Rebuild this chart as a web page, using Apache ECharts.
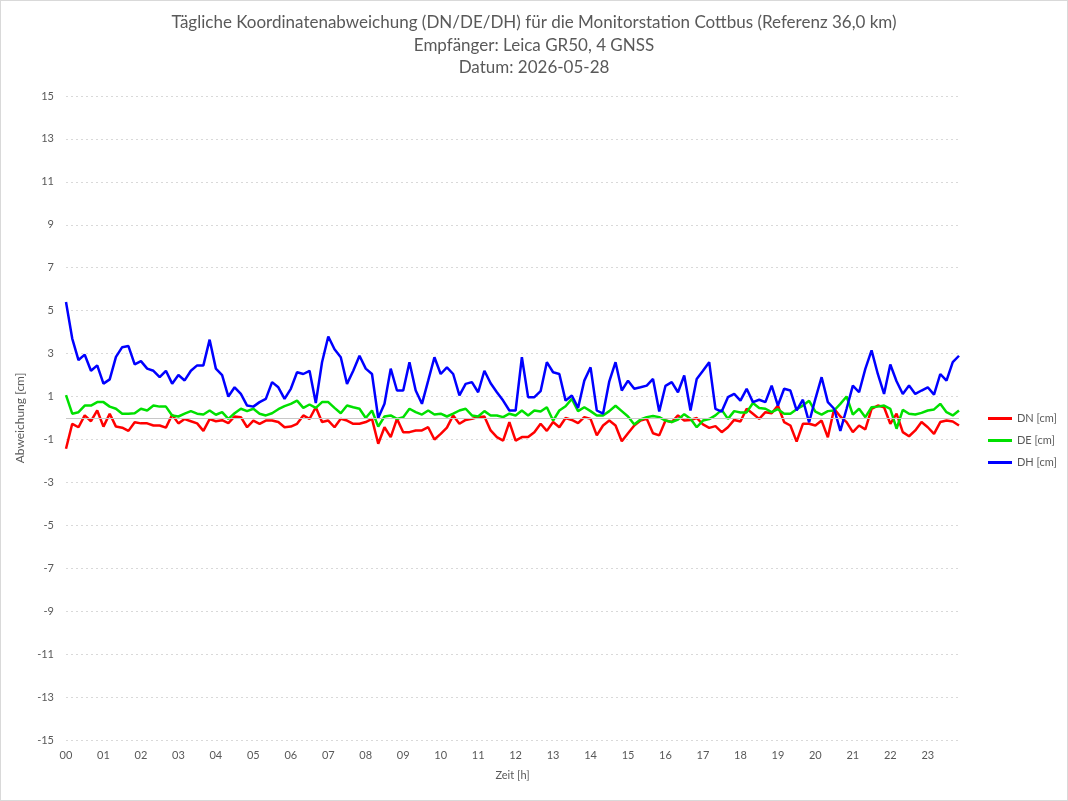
<!DOCTYPE html>
<html>
<head>
<meta charset="utf-8">
<script src="https://cdn.jsdelivr.net/npm/echarts@6/dist/echarts.min.js"></script>
<style>
  html, body { margin: 0; padding: 0; background: #fff; }
  #chart { width: 1066px; height: 799px; border: 1px solid #d9d9d9; }
</style>
</head>
<body>
<div id="chart"></div>
<script>
// Stundenbeschriftung der x-Achse
const hourLabels = ['00', '01', '02', '03', '04', '05', '06', '07', '08', '09', '10', '11',
  '12', '13', '14', '15', '16', '17', '18', '19', '20', '21', '22', '23']
const minuteSlots = ['00', '10', '20', '30', '40', '50'] // 10-Minuten-Epochen

const titleLines = [
  'Tägliche Koordinatenabweichung (DN/DE/DH) für die Monitorstation Cottbus (Referenz 36,0 km)',
  'Empfänger: Leica GR50, 4 GNSS',
  'Datum: 2026-05-28'
]

// DN [cm]
const dnValues = [
  -1.43, -0.27, -0.43, 0.12, -0.15, 0.35, -0.4, 0.2, -0.4, -0.45, -0.6, -0.2,
  -0.25, -0.25, -0.35, -0.35, -0.45, 0.15, -0.25, -0.05, -0.15, -0.25, -0.6, -0.05,
  -0.15, -0.1, -0.24, 0.07, 0.04, -0.43, -0.12, -0.27, -0.12, -0.12, -0.19, -0.43,
  -0.4, -0.27, 0.12, -0.04, 0.5, -0.19, -0.12, -0.43, -0.04, -0.12, -0.27, -0.27,
  -0.19, -0.04, -1.2, -0.43, -0.89, -0.04, -0.66, -0.66, -0.58, -0.58, -0.43, -1.0,
  -0.74, -0.45, 0.12, -0.27, -0.09, -0.04, 0.04, 0.07, -0.58, -0.89, -1.05, -0.19,
  -1.05, -0.89, -0.89, -0.66, -0.27, -0.6, -0.19, -0.43, 0.0, -0.09, -0.24, 0.04,
  -0.04, -0.81, -0.35, -0.12, -0.35, -1.08, -0.71, -0.35, -0.12, -0.04, -0.71, -0.81,
  -0.12, -0.19, 0.12, -0.12, -0.09, 0.0, -0.3, -0.46, -0.38, -0.66, -0.43, -0.09,
  -0.16, 0.43, 0.2, -0.04, 0.27, 0.22, 0.58, -0.19, -0.35, -1.1, -0.27, -0.27,
  -0.35, -0.12, -0.9, 0.43, 0.07, -0.19, -0.66, -0.35, -0.53, 0.43, 0.58, 0.5,
  -0.27, 0.2, -0.66, -0.85, -0.58, -0.19, -0.43, -0.74, -0.19, -0.12, -0.16, -0.35
]

// DE [cm]
const deValues = [
  1.07, 0.2, 0.27, 0.58, 0.58, 0.74, 0.74, 0.53, 0.43, 0.2, 0.2, 0.22,
  0.43, 0.35, 0.58, 0.53, 0.53, 0.12, 0.07, 0.2, 0.32, 0.2, 0.16, 0.35,
  0.15, 0.27, -0.04, 0.22, 0.43, 0.32, 0.43, 0.2, 0.12, 0.22, 0.41, 0.55,
  0.66, 0.81, 0.47, 0.63, 0.47, 0.74, 0.74, 0.47, 0.22, 0.58, 0.5, 0.43,
  0.0, 0.35, -0.4, 0.07, 0.12, -0.04, 0.04, 0.43, 0.27, 0.16, 0.35, 0.16,
  0.2, 0.07, 0.2, 0.35, 0.43, 0.12, 0.07, 0.32, 0.12, 0.12, 0.04, 0.2,
  0.12, 0.35, 0.12, 0.35, 0.3, 0.5, -0.12, 0.35, 0.55, 0.89, 0.32, 0.5,
  0.32, 0.12, 0.12, 0.32, 0.57, 0.32, 0.07, -0.3, -0.07, 0.04, 0.09, 0.04,
  -0.12, -0.19, -0.07, 0.18, -0.04, -0.43, -0.12, -0.05, 0.12, 0.38, -0.04, 0.32,
  0.26, 0.26, 0.7, 0.47, 0.43, 0.27, 0.41, 0.2, 0.2, 0.41, 0.58, 0.8,
  0.3, 0.16, 0.32, 0.35, 0.66, 1.0, 0.16, 0.43, 0.04, 0.5, 0.53, 0.58,
  0.43, -0.5, 0.38, 0.2, 0.16, 0.24, 0.35, 0.4, 0.66, 0.27, 0.12, 0.35
]

// DH [cm]
const dhValues = [
  5.4, 3.7, 2.7, 2.95, 2.2, 2.45, 1.6, 1.8, 2.85, 3.3, 3.35, 2.5,
  2.65, 2.3, 2.2, 1.9, 2.2, 1.6, 2.0, 1.75, 2.2, 2.45, 2.45, 3.65,
  2.3, 2.0, 1.0, 1.43, 1.12, 0.58, 0.53, 0.74, 0.89, 1.67, 1.43, 0.89,
  1.36, 2.13, 2.05, 2.2, 0.7, 2.6, 3.8, 3.2, 2.83, 1.59, 2.2, 2.9,
  2.3, 2.05, 0.0, 0.66, 2.3, 1.28, 1.28, 2.6, 1.28, 0.66, 1.74, 2.83,
  2.05, 2.36, 2.05, 1.05, 1.59, 1.67, 1.2, 2.2, 1.62, 1.2, 0.81, 0.35,
  0.35, 2.83, 0.97, 0.97, 1.25, 2.6, 2.13, 2.05, 0.81, 1.05, 0.47, 1.74,
  2.36, 0.35, 0.2, 1.71, 2.6, 1.28, 1.74, 1.36, 1.43, 1.51, 1.82, 0.3,
  1.5, 1.67, 1.2, 1.98, 0.35, 1.82, 2.2, 2.6, 0.43, 0.3, 0.97, 1.12,
  0.81, 1.36, 0.74, 0.85, 0.74, 1.51, 0.58, 1.36, 1.28, 0.35, 0.85, -0.2,
  0.89, 1.9, 0.74, 0.43, -0.6, 0.43, 1.51, 1.2, 2.29, 3.15, 2.05, 1.12,
  2.49, 1.71, 1.12, 1.51, 1.12, 1.28, 1.43, 1.09, 2.05, 1.74, 2.6, 2.9
]

const seriesNames = ['DN [cm]', 'DE [cm]', 'DH [cm]']
const seriesColors = ['#ff0000', '#00e000', '#0000ff']

// Zeitachse aus Stunden x Minuten zusammenbauen
const timeCategories = []
hourLabels.forEach(h => {
  minuteSlots.forEach(m => timeCategories.push(h + ':' + m))
})

const textColor = '#595959'
const fontFamily = 'Lato, "Open Sans", sans-serif'

const myChart = echarts.init(document.getElementById('chart'))

const option = {
  animation: false,
  textStyle: { fontFamily: fontFamily },
  // jede Titelzeile einzeln, damit alle zentriert sind
  title: titleLines.map((line, idx) => ({
    text: line,
    left: 'center',
    top: 12 + idx * 22.5,
    padding: 0,
    textStyle: {
      fontSize: 17,
      fontWeight: 'normal',
      color: textColor,
      lineHeight: 20,
      fontFamily: fontFamily
    }
  })),
  legend: {
    orient: 'vertical',
    left: 987,
    top: 411,
    padding: 0,
    icon: 'rect',
    itemWidth: 24,
    itemHeight: 3,
    itemGap: 9,
    textStyle: { fontSize: 11, color: textColor, fontFamily: fontFamily, lineHeight: 13 },
    data: seriesNames
  },
  grid: {
    left: 65,
    right: 108,
    top: 95,
    bottom: 60,
    containLabel: false
  },
  xAxis: {
    type: 'category',
    boundaryGap: false,
    data: timeCategories,
    name: 'Zeit [h]',
    nameLocation: 'middle',
    nameGap: 30,
    nameTextStyle: { fontSize: 11, color: textColor },
    axisLine: { show: false },
    axisTick: { show: false },
    axisLabel: {
      interval: 5,
      margin: 10,
      fontSize: 11,
      color: textColor,
      formatter: v => v.slice(0, 2)
    },
    splitLine: { show: false }
  },
  yAxis: {
    type: 'value',
    min: -15,
    max: 15,
    interval: 2,
    name: 'Abweichung [cm]',
    nameLocation: 'middle',
    nameRotate: 90,
    nameGap: 38,
    nameTextStyle: { fontSize: 12, color: textColor },
    axisLine: { show: false },
    axisTick: { show: false },
    axisLabel: { fontSize: 11, color: textColor, margin: 12 },
    splitLine: { lineStyle: { color: '#d9d9d9', type: [2, 3], width: 1 } }
  },
  series: [
    {
      name: seriesNames[0],
      type: 'line',
      data: dnValues,
      symbol: 'none',
      color: seriesColors[0],
      lineStyle: { width: 2.5 },
      markLine: {
        silent: true,
        symbol: 'none',
        label: { show: false },
        lineStyle: { color: '#c8c8c8', type: 'solid', width: 1 },
        data: [{ yAxis: 0 }]
      }
    },
    {
      name: seriesNames[1],
      type: 'line',
      data: deValues,
      symbol: 'none',
      color: seriesColors[1],
      lineStyle: { width: 2.5 }
    },
    {
      name: seriesNames[2],
      type: 'line',
      data: dhValues,
      symbol: 'none',
      color: seriesColors[2],
      lineStyle: { width: 2.5 }
    }
  ]
}

myChart.setOption(option)
</script>
</body>
</html>
